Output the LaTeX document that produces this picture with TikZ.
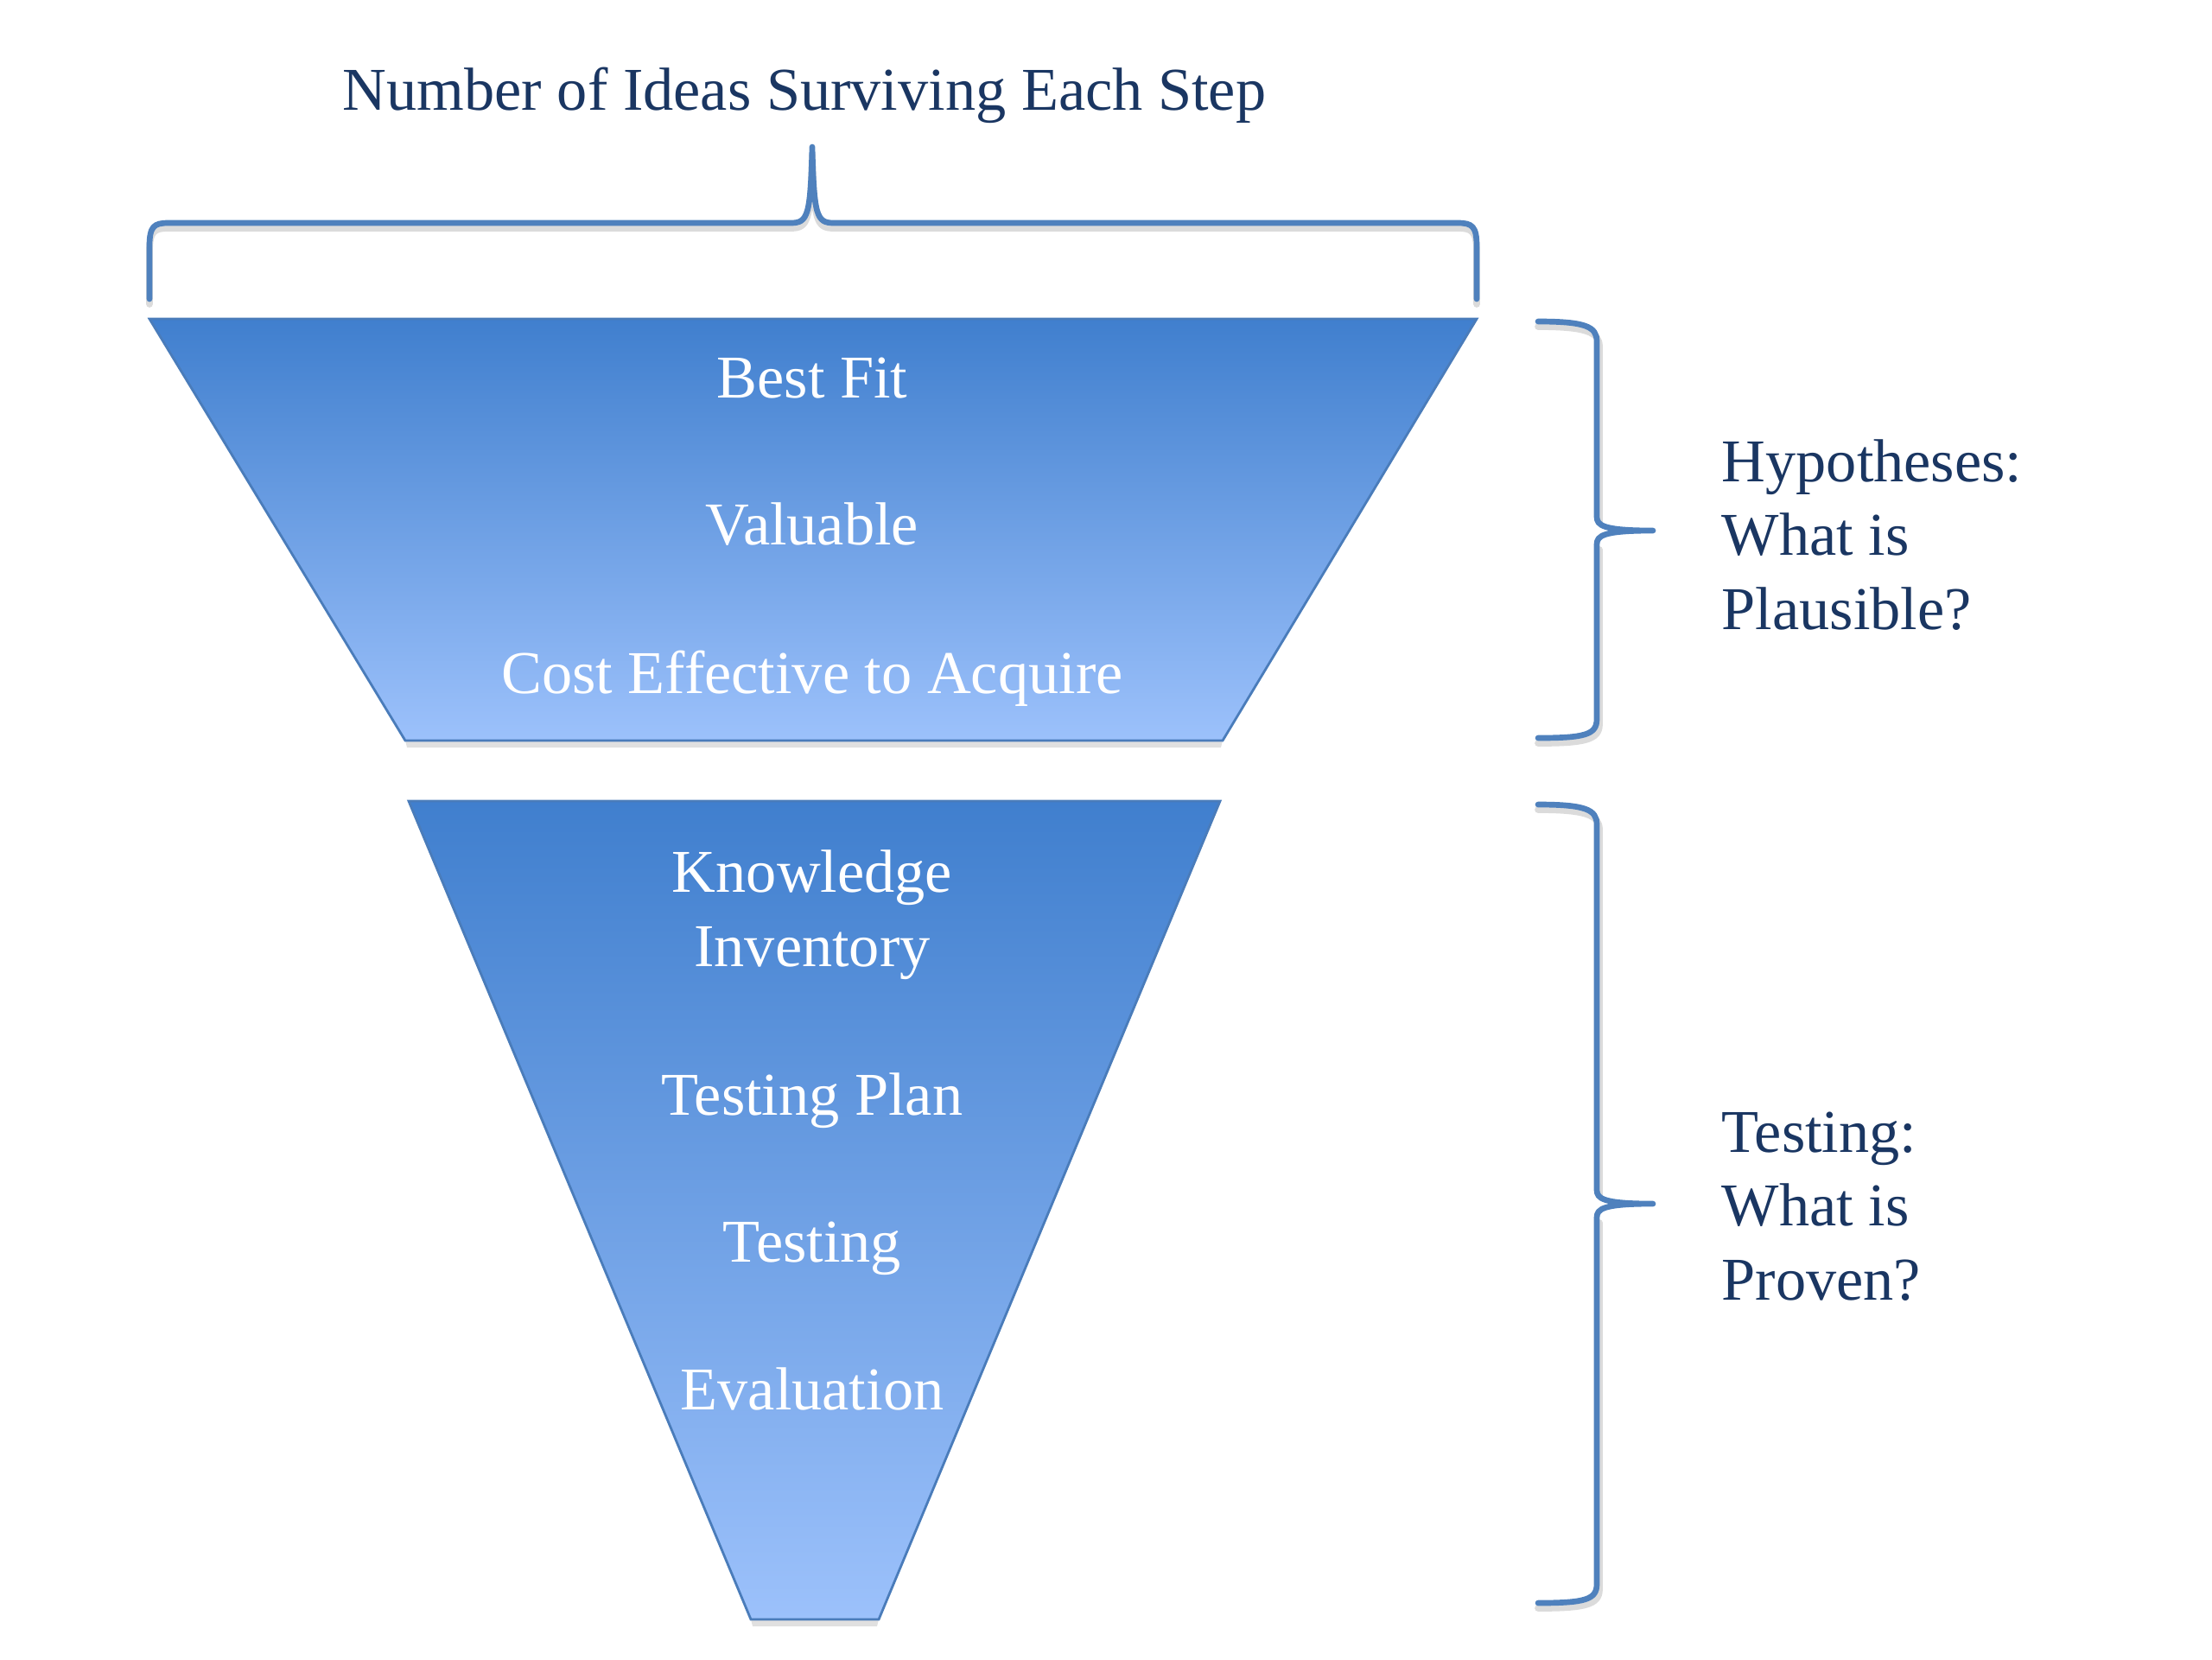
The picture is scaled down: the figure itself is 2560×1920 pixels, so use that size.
\documentclass[tikz,border=0pt]{standalone}
\usepackage{fontspec}
\setmainfont{Liberation Serif}
\usepackage{tikz}
\usetikzlibrary{positioning}

\definecolor{navytext}{RGB}{26,54,98}
\definecolor{bracecol}{RGB}{79,129,189}
\definecolor{funneltop}{RGB}{64,127,206}
\definecolor{funnelbot}{RGB}{156,193,251}
\definecolor{funnelline}{RGB}{74,124,186}

\begin{document}
\begin{tikzpicture}[x=0.01cm, y=-0.01cm,
    brace/.style={draw=bracecol, line width=1.9pt, line cap=round, line join=round},
    braceshadow/.style={draw=black!14, line width=2.2pt, line cap=round},
    funnel/.style={draw=funnelline, line width=0.8pt, top color=funneltop, bottom color=funnelbot},
    stage/.style={text=white, font=\fontsize{20}{24.2}\selectfont, anchor=base, align=center},
    note/.style={text=navytext, font=\fontsize{20}{24.2}\selectfont, anchor=base west, align=left, inner xsep=0pt}]
  \useasboundingbox (0,0) rectangle (2560,1920);

  % title
  \node[text=navytext, font=\fontsize{20}{24.2}\selectfont, anchor=base] (title) at (931,127) {Number of Ideas Surviving Each Step};

  % top brace
  \draw[braceshadow] (173,352) -- (173,291) .. controls (173,268) and (178,264) .. (195,264) -- (915,264) .. controls (935,264) and (938,256) .. (940,180);
  \draw[braceshadow] (940,180) .. controls (942,256) and (945,264) .. (965,264) -- (1687,264) .. controls (1704,264) and (1709,268) .. (1709,291) -- (1709,352);
  \draw[brace] (173,346) -- (173,285) .. controls (173,262) and (178,258) .. (195,258) -- (915,258)
    .. controls (935,258) and (938,250) .. (940,170) .. controls (942,250) and (945,258) .. (965,258)
    -- (1687,258) .. controls (1704,258) and (1709,262) .. (1709,285) -- (1709,346);

  % funnel shadows
  \fill[black!12] (469,857) -- (1415,857) -- (1413,865) -- (471,865) -- cycle;
  \fill[black!12] (869,1874) -- (1017,1874) -- (1015,1882) -- (871,1882) -- cycle;

  % upper funnel
  \draw[funnel] (173,369) -- (1709,369) -- (1415,857) -- (469,857) -- cycle;
  \node[stage] (bestfit) at (940,460) {Best Fit};
  \node[stage] (valuable) at (940,630) {Valuable};
  \node[stage] (costeff) at (940,802) {Cost Effective to Acquire};

  % lower funnel
  \draw[funnel] (473,927) -- (1412,927) -- (1017,1874) -- (869,1874) -- cycle;
  \node[stage] (knowledge) at (940,1118) {Knowledge\\Inventory};
  \node[stage] (plan) at (940,1290) {Testing Plan};
  \node[stage] (testing) at (940,1460) {Testing};
  \node[stage] (evaluation) at (940,1631) {Evaluation};

  % right braces
  \draw[braceshadow] (1780,378) .. controls (1835,378) and (1851,384) .. (1851,401) -- (1851,604);
  \draw[braceshadow] (1851,636) -- (1851,838) .. controls (1851,856) and (1835,860) .. (1780,860);
  \draw[brace] (1780,372) .. controls (1835,372) and (1848,378) .. (1848,395) -- (1848,598)
    .. controls (1848,608) and (1855,614) .. (1913,614) .. controls (1855,614) and (1848,620) .. (1848,630)
    -- (1848,832) .. controls (1848,850) and (1835,854) .. (1780,854);

  \draw[braceshadow] (1780,937) .. controls (1835,937) and (1851,943) .. (1851,960) -- (1851,1383);
  \draw[braceshadow] (1851,1415) -- (1851,1839) .. controls (1851,1857) and (1835,1861) .. (1780,1861);
  \draw[brace] (1780,931) .. controls (1835,931) and (1848,937) .. (1848,954) -- (1848,1377)
    .. controls (1848,1387) and (1855,1393) .. (1913,1393) .. controls (1855,1393) and (1848,1399) .. (1848,1409)
    -- (1848,1833) .. controls (1848,1851) and (1835,1855) .. (1780,1855);

  % side notes
  \node[note] (hypo) at (1992,728) {Hypotheses:\\What is\\Plausible?};
  \node[note] (proof) at (1992,1504) {Testing:\\What is\\Proven?};
\end{tikzpicture}
\end{document}
